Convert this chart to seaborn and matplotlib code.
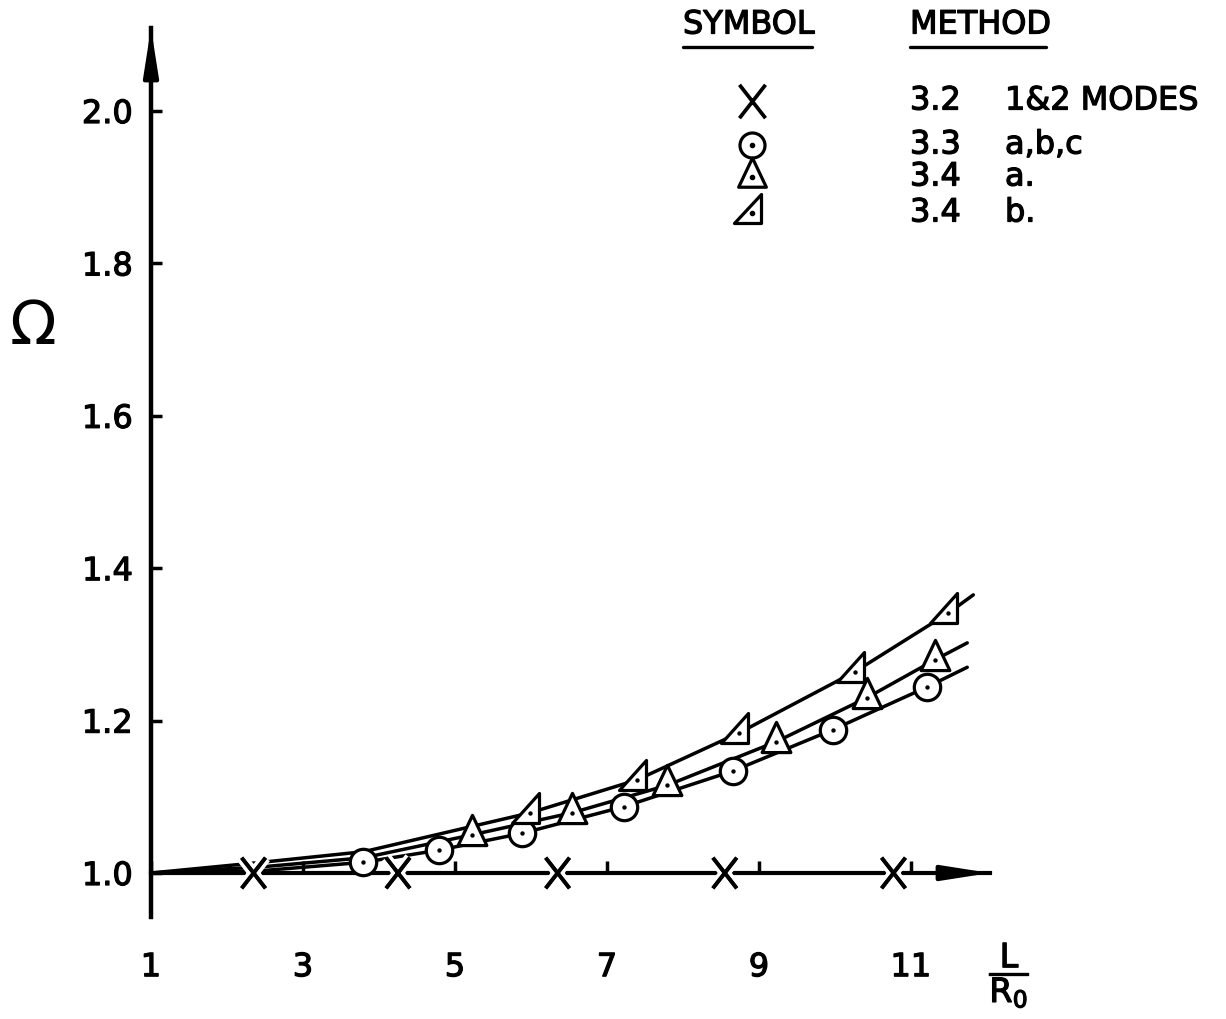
import matplotlib
matplotlib.use("Agg")
import matplotlib.pyplot as plt
import matplotlib.patheffects as pe
import seaborn as sns
from matplotlib.path import Path
from matplotlib.lines import Line2D


# values (L/R0 and Omega)
x_32 = [2.35, 4.25, 6.35, 8.55, 10.77]
omega_32 = [1.0, 1.0, 1.0, 1.0, 1.0]

x_33 = [3.79, 4.79, 5.88, 7.22, 8.66, 9.97, 11.21]
omega_33 = [1.014, 1.030, 1.052, 1.087, 1.134, 1.188, 1.244]

x_34a = [5.22, 6.54, 7.79, 9.22, 10.42, 11.32]
omega_34a = [1.050, 1.079, 1.115, 1.172, 1.230, 1.280]

x_34b = [5.99, 7.39, 8.74, 10.26, 11.49]
omega_34b = [1.079, 1.122, 1.184, 1.264, 1.341]

# the drawn curves (start at the axis, run through the symbols, run on a bit)
curve_33_x = [1.0, 2.45, 3.79, 4.79, 5.88, 7.22, 8.66, 9.97, 11.21, 11.74]
curve_33_y = [1.0, 1.003, 1.014, 1.030, 1.052, 1.087, 1.134, 1.188, 1.244, 1.270]
curve_34a_x = [1.0, 2.45, 3.8, 5.22, 6.54, 7.79, 9.22, 10.42, 11.32, 11.74]
curve_34a_y = [1.0, 1.008, 1.020, 1.050, 1.079, 1.115, 1.172, 1.230, 1.280, 1.302]
curve_34b_x = [1.0, 2.45, 3.8, 5.99, 7.39, 8.74, 10.26, 11.49, 11.82]
curve_34b_y = [1.0, 1.014, 1.028, 1.079, 1.122, 1.184, 1.264, 1.341, 1.365]

x_ticks = [1, 3, 5, 7, 9, 11]
y_ticks = [1.0, 1.2, 1.4, 1.6, 1.8, 2.0]

legend_methods = ["3.2", "3.3", "3.4", "3.4"]
legend_notes = ["1&2 MODES", "a,b,c", "a.", "b."]

W, H = 1226, 1019

X_MARK = Path([(-0.78, -1), (0.78, 1), (-0.78, 1), (0.78, -1)],
              [Path.MOVETO, Path.LINETO, Path.MOVETO, Path.LINETO])
TRI = Path([(0, 1.333), (-0.95, -0.667), (0.95, -0.667), (0, 1.333)],
           [Path.MOVETO, Path.LINETO, Path.LINETO, Path.CLOSEPOLY])
RTRI = Path([(-1.2, -0.667), (0.6, -0.667), (0.6, 1.333), (-1.2, -0.667)],
            [Path.MOVETO, Path.LINETO, Path.LINETO, Path.CLOSEPOLY])

STYLES = [
    dict(marker=X_MARK, size=22, dot=False),
    dict(marker="o", size=19, dot=True),
    dict(marker=TRI, size=29, dot=True),
    dict(marker=RTRI, size=29, dot=True),
]

BOLDEN = [pe.withStroke(linewidth=0.9, foreground="black")]


def draw_symbols(ax, xs, ys, style):
	if style["dot"]:
		sns.scatterplot(x=xs, y=ys, marker=style["marker"], s=style["size"] ** 2,
		                color="white", edgecolor="black", linewidth=2.3,
		                zorder=4, ax=ax, legend=False)
		sns.scatterplot(x=xs, y=ys, marker="o", s=10, color="black",
		                linewidth=0, zorder=5, ax=ax, legend=False)
	else:
		pts = sns.scatterplot(x=xs, y=ys, marker=style["marker"], s=style["size"] ** 2,
		                      color="black", edgecolor="black", linewidth=2.7,
		                      zorder=4, ax=ax, legend=False)
		pts.collections[-1].set_path_effects(
			[pe.withStroke(linewidth=8, foreground="white"), pe.Normal()])


def main():
	sns.set_style("white")
	plt.rcParams["font.family"] = ["DejaVu Sans"]
	plt.rcParams["mathtext.default"] = "regular"
	plt.rcParams["text.color"] = "black"
	plt.rcParams["xtick.color"] = "black"
	plt.rcParams["ytick.color"] = "black"

	fig = plt.figure(figsize=(W / 100, H / 100), dpi=100)
	ax = fig.add_axes([151 / W, 1 - 917 / H, (990 - 151) / W, (917 - 28) / H])
	ax.set_xlim(1, 1 + (990 - 151) / 76)
	ax.set_ylim(1 - (917 - 873) / 762, 1 + (873 - 28) / 762)

	for cx, cy in [(curve_33_x, curve_33_y), (curve_34a_x, curve_34a_y),
	               (curve_34b_x, curve_34b_y)]:
		sns.lineplot(x=cx, y=cy, color="black", linewidth=2.5, sort=False,
		             zorder=3, ax=ax)

	series = [(x_32, omega_32), (x_33, omega_33), (x_34a, omega_34a), (x_34b, omega_34b)]
	for (xs, ys), style in zip(series, STYLES):
		draw_symbols(ax, xs, ys, style)

	# axes drawn as arrows
	for side in ["top", "right"]:
		ax.spines[side].set_visible(False)
	ax.spines["bottom"].set_position(("data", 1.0))
	ax.spines["bottom"].set_linewidth(3)
	ax.spines["left"].set_linewidth(3.2)
	ax.spines["bottom"].set_color("black")
	ax.spines["left"].set_color("black")
	arrow = dict(arrowstyle="-|>,head_length=1.4,head_width=0.22", color="black",
	             lw=3, mutation_scale=20, shrinkA=0, shrinkB=0)
	ax.annotate("", xy=(1, 1.0), xycoords=ax.get_yaxis_transform(),
	            xytext=(0.95, 1.0), textcoords=ax.get_yaxis_transform(),
	            arrowprops=arrow)
	ax.annotate("", xy=(0, 1), xycoords="axes fraction",
	            xytext=(0, 0.95), textcoords="axes fraction", arrowprops=arrow)

	ax.set_xticks(x_ticks)
	ax.set_xticklabels([str(v) for v in x_ticks])
	ax.set_yticks(y_ticks)
	ax.set_yticklabels([f"{v:.1f}" for v in y_ticks])
	ax.tick_params(axis="x", direction="in", length=9, width=2.5, pad=57,
	               labelsize=23, colors="black", bottom=True)
	ax.tick_params(axis="y", direction="in", length=8, width=2.5, pad=13,
	               labelsize=23, colors="black", left=True)
	for lab in ax.get_xticklabels() + ax.get_yticklabels():
		lab.set_path_effects(BOLDEN)
	ax.set_xlabel("")
	ax.set_ylabel("")

	fig.text(33 / W, 1 - 328 / H, "\u03a9", fontsize=44, ha="center", va="center")
	fig.text(1010 / W, 1 - 975 / H, r"$\dfrac{L}{R_0}$", fontsize=24,
	         ha="center", va="center", path_effects=BOLDEN)

	# legend table
	fig.text(683 / W, 1 - 25 / H, "SYMBOL", fontsize=23, ha="left", va="center",
	         path_effects=BOLDEN)
	fig.text(910 / W, 1 - 25 / H, "METHOD", fontsize=23, ha="left", va="center",
	         path_effects=BOLDEN)
	for x0, x1 in [(683, 812), (910, 1046)]:
		fig.add_artist(Line2D([x0 / W, x1 / W], [1 - 47 / H, 1 - 47 / H], lw=2.4,
		                      color="black", transform=fig.transFigure))
	row_y = [101, 145, 177, 213]
	for ry, style, meth, note in zip(row_y, STYLES, legend_methods, legend_notes):
		fy = 1 - ry / H
		if style["dot"]:
			fig.add_artist(Line2D([752 / W], [fy], marker=style["marker"],
			                      markersize=style["size"] - 1, mfc="white", mec="black",
			                      mew=2.3, ls="none", transform=fig.transFigure))
			fig.add_artist(Line2D([752 / W], [fy], marker="o", markersize=3,
			                      color="black", ls="none", transform=fig.transFigure))
		else:
			fig.add_artist(Line2D([752 / W], [fy], marker=style["marker"],
			                      markersize=style["size"] + 2, mec="black", mew=2.7,
			                      ls="none", transform=fig.transFigure))
		fig.text(910 / W, fy, meth, fontsize=23, ha="left", va="center",
		         path_effects=BOLDEN)
		fig.text(1005 / W, fy, note, fontsize=23, ha="left", va="center",
		         path_effects=BOLDEN)

	fig.savefig("out.png", dpi=100)


if __name__ == "__main__":
	main()
